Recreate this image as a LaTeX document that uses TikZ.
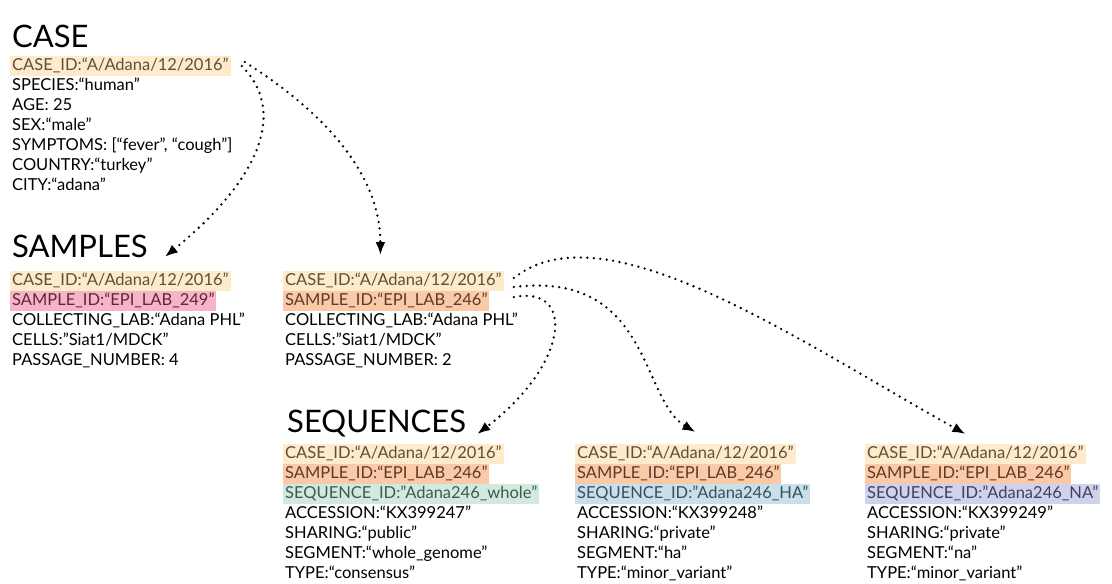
\documentclass[tikz,border=0pt]{standalone}
\usepackage{fontspec}
\setmainfont{Lato}
\usetikzlibrary{arrows.meta}

\definecolor{caseFill}{HTML}{FDEBCB}
\definecolor{caseText}{HTML}{5E5138}
\definecolor{pinkFill}{HTML}{F8B3C6}
\definecolor{pinkText}{HTML}{5A2A35}
\definecolor{salmonFill}{HTML}{F9C9A8}
\definecolor{salmonText}{HTML}{5E3A28}
\definecolor{greenFill}{HTML}{D2E9DD}
\definecolor{greenText}{HTML}{3F5A50}
\definecolor{blueFill}{HTML}{C9DFEA}
\definecolor{blueText}{HTML}{35505F}
\definecolor{lilacFill}{HTML}{CFD2EA}
\definecolor{lilacText}{HTML}{3E4060}

\begin{document}
\begin{tikzpicture}[x=1pt,y=-1pt,
  head/.style={anchor=base west, inner sep=0pt, font=\fontsize{31}{36}\selectfont},
  entry/.style={anchor=north west, inner xsep=2pt, inner ysep=0pt, text height=14pt, text depth=5.7pt, font=\fontsize{16.5}{19}\selectfont},
  caseid/.style={entry, fill=caseFill, text=caseText},
  link/.style={line width=2.6pt, dash pattern=on 0pt off 6.5pt, line cap=round, -{Latex[length=13pt,width=10pt]}}]

\useasboundingbox (0,0) rectangle (1112,584);

% headings
\node[head] (casehead) at (12,47) {CASE};
\node[head] (samphead) at (12,257) {SAMPLES};
\node[head] (seqhead) at (287,432) {SEQUENCES};

% case
\node[caseid] (case1) at (10,56) {CASE\_ID:“A/Adana/12/2016”};
\node[entry] (case2) at (case1.south west) {SPECIES:“human”};
\node[entry] (case3) at (case2.south west) {AGE: 25};
\node[entry] (case4) at (case3.south west) {SEX:“male”};
\node[entry] (case5) at (case4.south west) {SYMPTOMS: [“fever”, “cough”]};
\node[entry] (case6) at (case5.south west) {COUNTRY:“turkey”};
\node[entry] (case7) at (case6.south west) {CITY:“adana”};

% samples
\node[caseid] (sa1) at (10,271) {CASE\_ID:“A/Adana/12/2016”};
\node[entry, fill=pinkFill, text=pinkText] (sa2) at (sa1.south west) {SAMPLE\_ID:“EPI\_LAB\_249”};
\node[entry] (sa3) at (sa2.south west) {COLLECTING\_LAB:“Adana PHL”};
\node[entry] (sa4) at (sa3.south west) {CELLS:”Siat1/MDCK”};
\node[entry] (sa5) at (sa4.south west) {PASSAGE\_NUMBER: 4};

\node[caseid] (sb1) at (283,271) {CASE\_ID:“A/Adana/12/2016”};
\node[entry, fill=salmonFill, text=salmonText] (sb2) at (sb1.south west) {SAMPLE\_ID:“EPI\_LAB\_246”};
\node[entry] (sb3) at (sb2.south west) {COLLECTING\_LAB:“Adana PHL”};
\node[entry] (sb4) at (sb3.south west) {CELLS:”Siat1/MDCK”};
\node[entry] (sb5) at (sb4.south west) {PASSAGE\_NUMBER: 2};

% sequences
\node[caseid] (qa1) at (283,444) {CASE\_ID:“A/Adana/12/2016”};
\node[entry, fill=salmonFill, text=salmonText] (qa2) at (qa1.south west) {SAMPLE\_ID:“EPI\_LAB\_246”};
\node[entry, fill=greenFill, text=greenText] (qa3) at (qa2.south west) {SEQUENCE\_ID:”Adana246\_whole”};
\node[entry] (qa4) at (qa3.south west) {ACCESSION:“KX399247”};
\node[entry] (qa5) at (qa4.south west) {SHARING:“public”};
\node[entry] (qa6) at (qa5.south west) {SEGMENT:“whole\_genome”};
\node[entry] (qa7) at (qa6.south west) {TYPE:“consensus”};

\node[caseid] (qb1) at (575,444) {CASE\_ID:“A/Adana/12/2016”};
\node[entry, fill=salmonFill, text=salmonText] (qb2) at (qb1.south west) {SAMPLE\_ID:“EPI\_LAB\_246”};
\node[entry, fill=blueFill, text=blueText] (qb3) at (qb2.south west) {SEQUENCE\_ID:”Adana246\_HA”};
\node[entry] (qb4) at (qb3.south west) {ACCESSION:“KX399248”};
\node[entry] (qb5) at (qb4.south west) {SHARING:“private”};
\node[entry] (qb6) at (qb5.south west) {SEGMENT:“ha”};
\node[entry] (qb7) at (qb6.south west) {TYPE:“minor\_variant”};

\node[caseid] (qc1) at (865,444) {CASE\_ID:“A/Adana/12/2016”};
\node[entry, fill=salmonFill, text=salmonText] (qc2) at (qc1.south west) {SAMPLE\_ID:“EPI\_LAB\_246”};
\node[entry, fill=lilacFill, text=lilacText] (qc3) at (qc2.south west) {SEQUENCE\_ID:”Adana246\_NA”};
\node[entry] (qc4) at (qc3.south west) {ACCESSION:“KX399249”};
\node[entry] (qc5) at (qc4.south west) {SHARING:“private”};
\node[entry] (qc6) at (qc5.south west) {SEGMENT:“na”};
\node[entry] (qc7) at (qc6.south west) {TYPE:“minor\_variant”};

% links
\draw[link] ([xshift=11pt]case1.east) .. controls +(44,44) and +(98,-80) .. ([xshift=17pt,yshift=-11pt]samphead.east);
\draw[link] ([xshift=14pt,yshift=4pt]case1.east) .. controls +(76,48) and +(0,-83) .. ([xshift=-13pt,yshift=16pt]sb1.north);
\draw[link] ([xshift=10pt,yshift=3pt]sb1.east) .. controls +(90,-72) and +(-170,-95) .. ([xshift=-10pt,yshift=10pt]qc1.north);
\draw[link] ([xshift=10pt,yshift=-6pt]sb1.east) .. controls +(137,-17) and +(-55,-32) .. ([xshift=10pt,yshift=12pt]qb1.north);
\draw[link] ([xshift=10pt,yshift=-16pt]sb1.east) .. controls +(62,-12) and +(92,-70) .. ([xshift=11pt,yshift=-11pt]seqhead.east);

\end{tikzpicture}
\end{document}
